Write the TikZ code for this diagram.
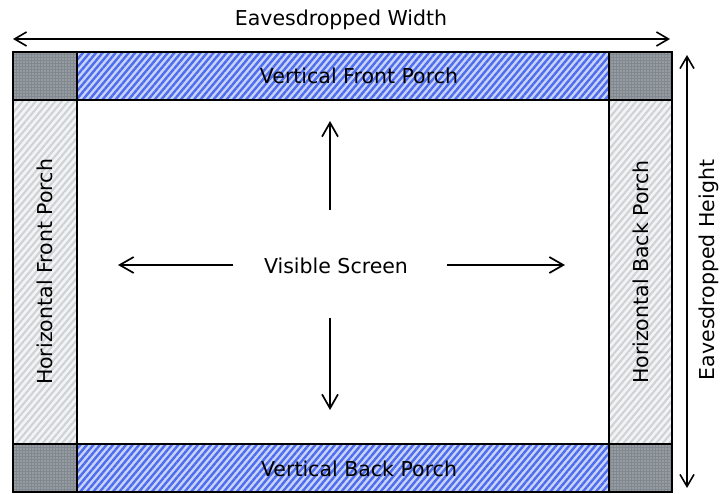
\documentclass[tikz,border=0pt]{standalone}
\usepackage{fontspec}
\setmainfont{DejaVu Sans}
\usetikzlibrary{arrows.meta,patterns,patterns.meta}
\definecolor{bluebg}{RGB}{200,212,250}
\definecolor{blueln}{RGB}{78,108,236}
\definecolor{graybg}{RGB}{242,243,245}
\definecolor{grayln}{RGB}{206,209,213}
\definecolor{darkg}{RGB}{130,136,143}
\tikzset{
  lbl/.style={font=\fontsize{20.5}{22}\selectfont, text=black, inner sep=0pt},
  blueband/.style={preaction={fill=bluebg}, pattern={Lines[angle=50,distance=5pt,line width=2.4pt]}, pattern color=blueln},
  grayband/.style={preaction={fill=graybg}, pattern={Lines[angle=50,distance=5pt,line width=2pt]}, pattern color=grayln},
  corner/.style={preaction={fill=darkg}, pattern={Dots[distance=3pt,radius=0.6pt]}, pattern color=white!75!darkg},
  outline/.style={draw=black, line width=2.1pt},
  arr/.style={draw=black, line width=1.8pt, -{Straight Barb[length=14pt,width=16pt,line width=1.7pt]}},
  dim/.style={draw=black, line width=1.8pt, {Straight Barb[length=12pt,width=14pt,line width=1.6pt]}-{Straight Barb[length=12pt,width=14pt,line width=1.6pt]}}
}
\begin{document}
\begin{tikzpicture}[x=1pt,y=-1pt]
\useasboundingbox (0,0) rectangle (722,494);
% bands
\path[blueband] (77,52) rectangle (609,100);
\path[blueband] (77,444) rectangle (609,492);
\path[grayband] (13,100) rectangle (77,444);
\path[grayband] (609,100) rectangle (672,444);
\path[corner] (13,52) rectangle (77,100);
\path[corner] (609,52) rectangle (672,100);
\path[corner] (13,444) rectangle (77,492);
\path[corner] (609,444) rectangle (672,492);
% outlines
\draw[outline] (13,52) rectangle (672,492);
\draw[outline] (77,52) -- (77,492);
\draw[outline] (609,52) -- (609,492);
\draw[outline] (13,100) -- (672,100);
\draw[outline] (13,444) -- (672,444);
% labels
\node[lbl] (vfp) at (359,76) {Vertical Front Porch};
\node[lbl] (vbp) at (359,469) {Vertical Back Porch};
\node[lbl, rotate=90] (hfp) at (45,272) {Horizontal Front Porch};
\node[lbl, rotate=90] (hbp) at (641,272) {Horizontal Back Porch};
\node[lbl] (vis) at (336,266) {Visible Screen};
\node[lbl] (ewl) at (341,20) {Eavesdropped Width};
\node[lbl, rotate=90] (ehl) at (709,270) {Eavesdropped Height};
% arrows from visible screen
\coordinate (upS) at (330,210);
\coordinate (upE) at (330,121);
\coordinate (dnS) at (330,318);
\coordinate (dnE) at (330,410);
\coordinate (lfS) at (233,265);
\coordinate (lfE) at (118,265);
\coordinate (rtS) at (447,265);
\coordinate (rtE) at (565,265);
\draw[arr] (upS) -- (upE);
\draw[arr] (dnS) -- (dnE);
\draw[arr] (lfS) -- (lfE);
\draw[arr] (rtS) -- (rtE);
% dimension arrows
\coordinate (wL) at (13,39);
\coordinate (wR) at (670,39);
\coordinate (hT) at (687,55);
\coordinate (hB) at (687,488);
\draw[dim] (wL) -- (wR);
\draw[dim] (hT) -- (hB);
\end{tikzpicture}
\end{document}
